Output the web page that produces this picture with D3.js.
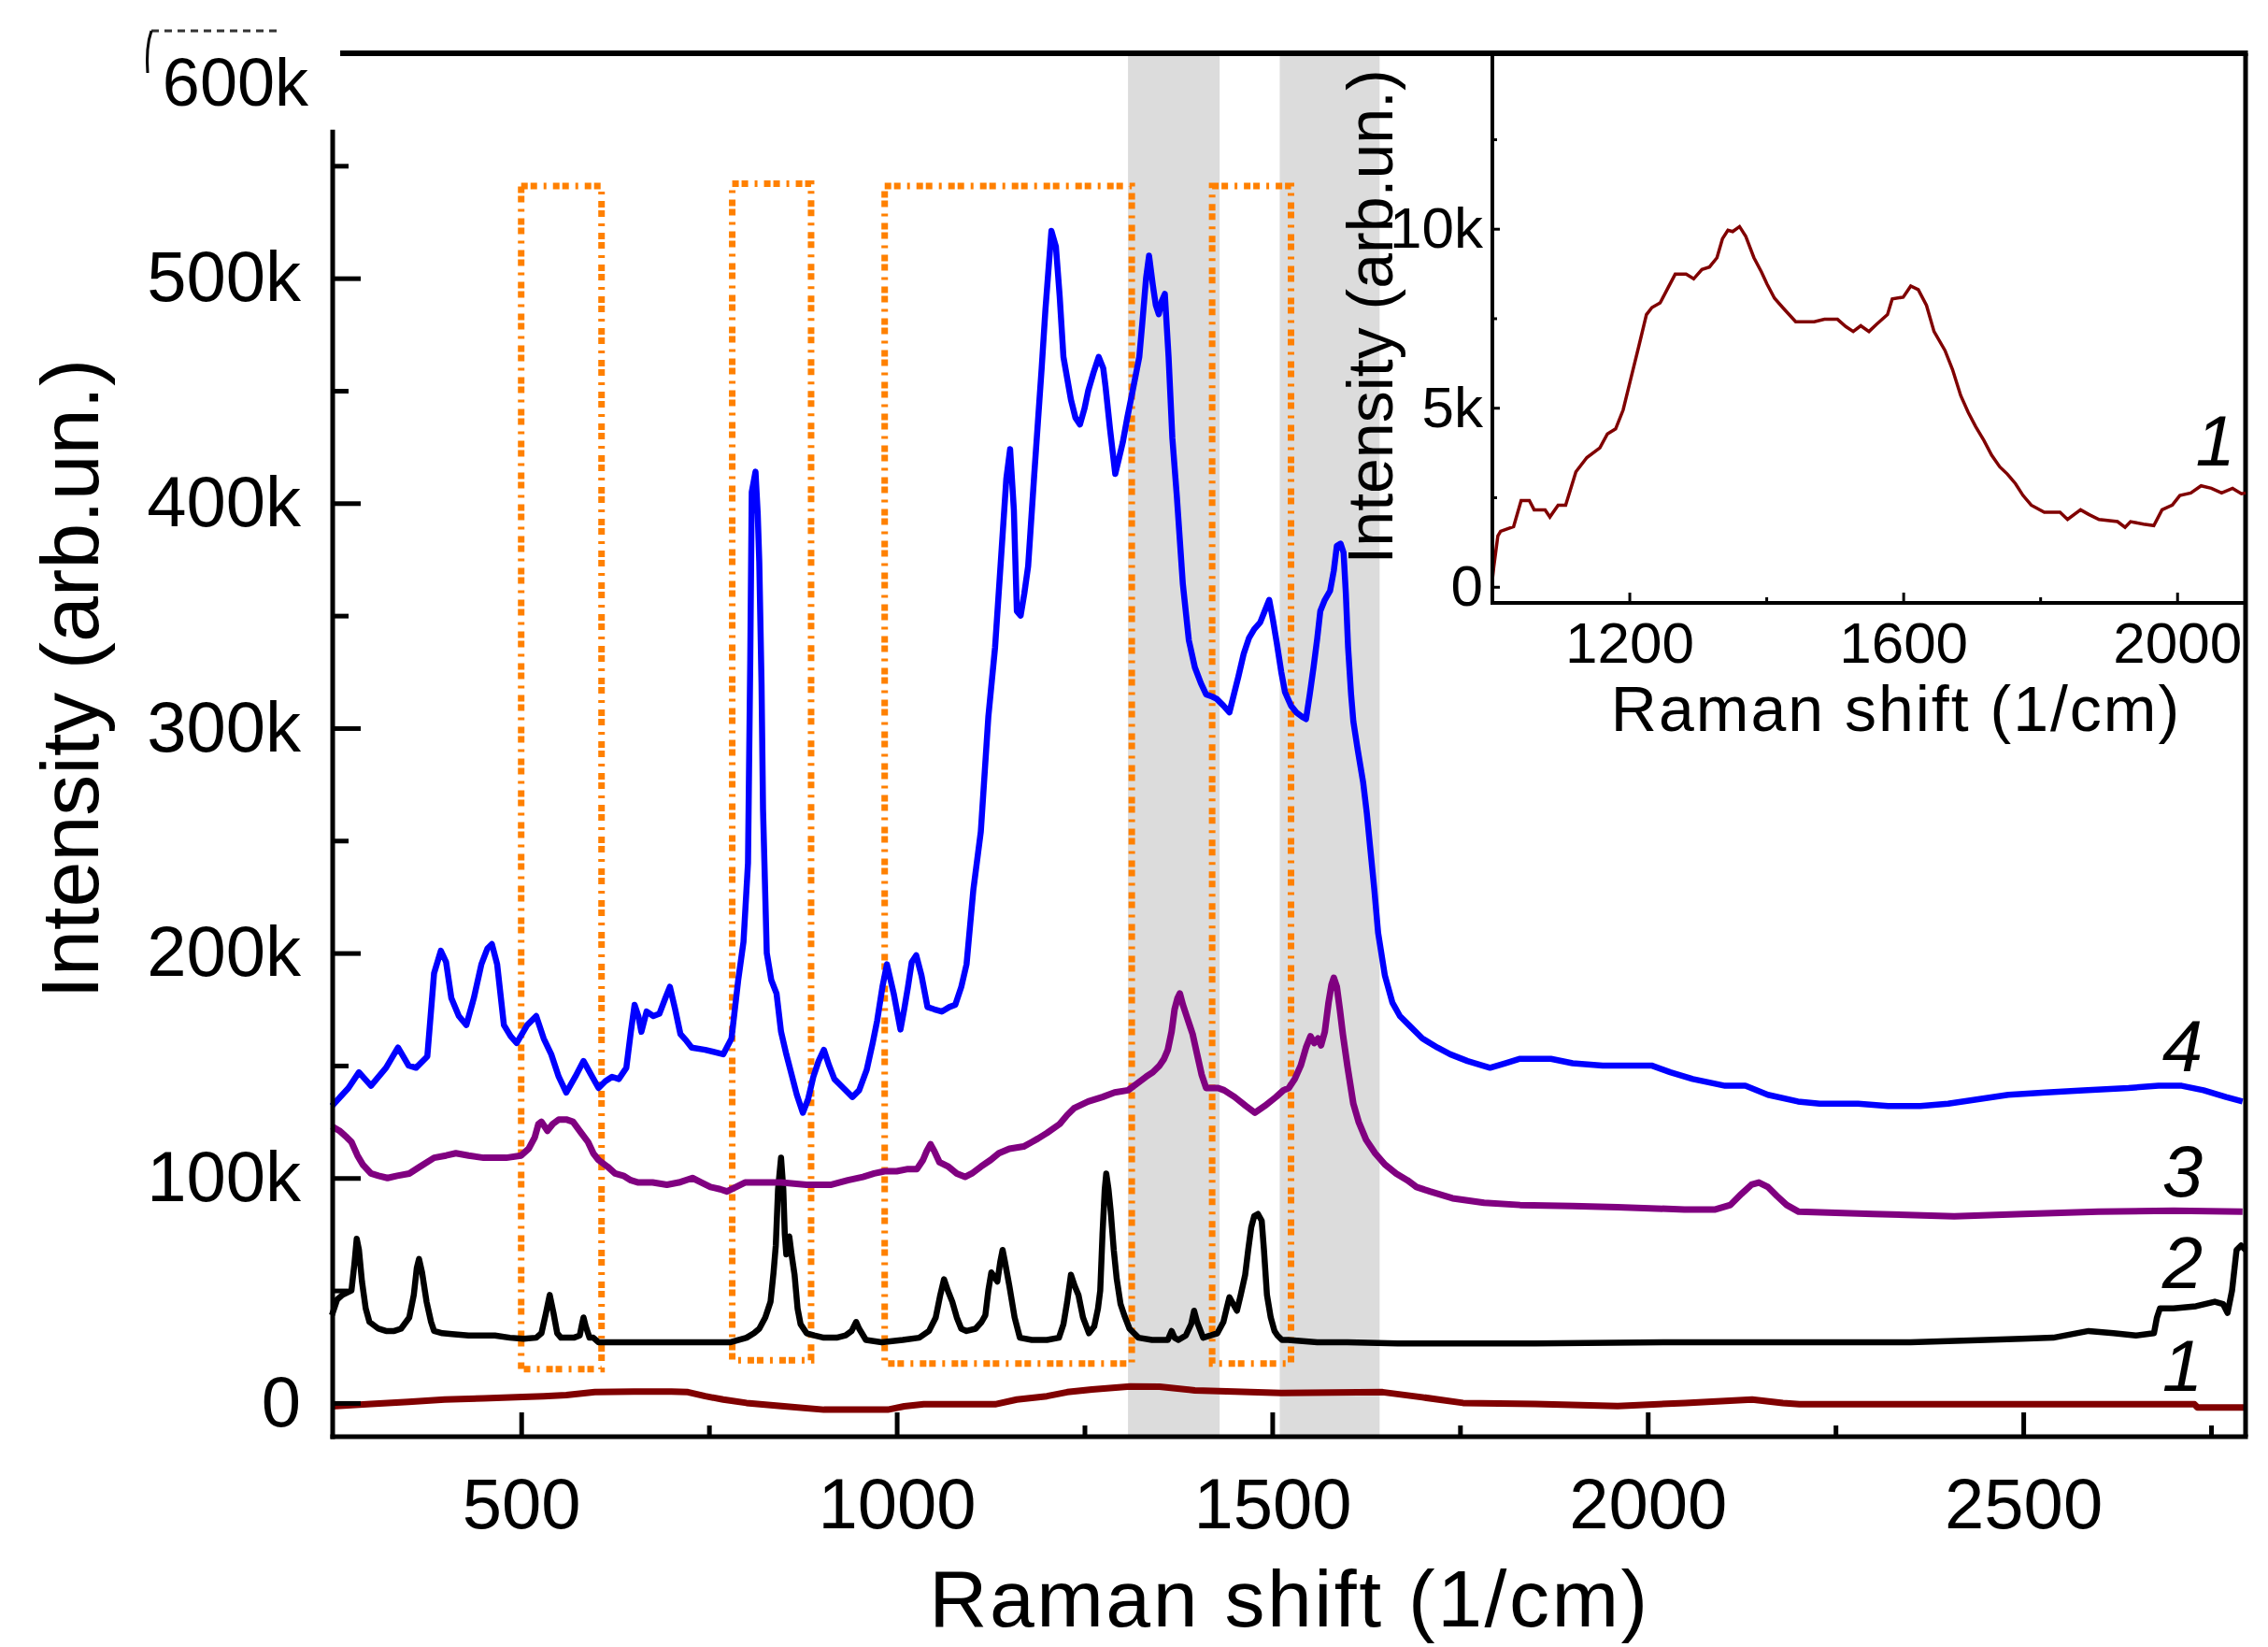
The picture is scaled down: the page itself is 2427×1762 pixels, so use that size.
<!DOCTYPE html>
<html lang="en">
<head>
<meta charset="UTF-8" />
<title>Raman spectra 1-4 with inset</title>
<style>
  html, body { margin: 0; padding: 0; background: #fff; }
  svg { display: block; }
  text { font-family: "Liberation Sans", Arial, sans-serif; fill: #000; }
</style>
<script src="https://cdn.jsdelivr.net/npm/d3@7"></script>
</head>
<body>
<script>
// Raman shift (1/cm), intensity (k arb.un.)
const curve1 = [[248,-1.5],[300,-0.5],[350,0.5],[398,1.5],[450,2],[502,2.7],[530,3],[560,3.5],[598,4.8],[650,5],[700,5],[722,4.8],[745,3],[769,1.5],[800,0],[850,-1.5],[903,-3],[950,-3],[988,-3],[1010,-1.5],[1036,-0.6],[1080,-0.6],[1131,-0.6],[1160,1.5],[1200,3],[1227,4.8],[1260,6],[1311,7.3],[1350,7.2],[1397,5.6],[1450,5],[1512,4.4],[1580,4.6],[1647,4.8],[1700,2.5],[1754,0],[1850,-0.5],[1960,-1.4],[2050,0],[2139,1.5],[2180,0],[2202,-0.6],[2400,-0.6],[2600,-0.6],[2728,-0.6],[2732,-2],[2796,-2]];

const curve2 = [[248,39],[255,46],[262,48],[274,50],[278,62],[281,73],[284,68],[288,54],[293,42],[298,36],[310,33],[320,32],[331,32],[340,33],[351,38],[357,48],[361,60],[364,64],[368,58],[374,45],[380,36],[384,32],[395,31],[408,30.6],[430,30],[450,30],[465,30],[485,29],[503,28.5],[520,29],[527,31],[533,40],[538,48],[543,40],[548,31],[553,29],[570,29],[578,30],[581,35],[583,38],[586,34],[591,29],[596,29],[603,27],[650,27],[700,27],[750,27],[779,27],[800,29],[810,31],[817,33],[825,38],[832,45],[836,58],[839,70],[842,95],[846,109],[849,95],[851,75],[853,66],[855,70],[857,74],[860,66],[864,57],[868,42],[872,35],[880,31],[890,30],[903,29],[920,29],[932,30],[940,32],[946,36],[950,33],[959,28],[980,27],[1008,28],[1030,29],[1043,32],[1052,38],[1058,48],[1063,55],[1068,50],[1074,45],[1080,38],[1086,33],[1093,32],[1105,33],[1113,36],[1118,39],[1122,50],[1126,58],[1130,56],[1134,54],[1138,63],[1141,68],[1144,63],[1150,52],[1157,38],[1164,29],[1180,28],[1200,28],[1216,29],[1222,35],[1227,45],[1232,57],[1237,52],[1242,48],[1248,38],[1256,31],[1263,34],[1268,42],[1271,50],[1274,75],[1277,95],[1279,102],[1282,95],[1285,85],[1289,68],[1293,55],[1298,44],[1303,39],[1310,33],[1322,29],[1340,28],[1361,28],[1366,32],[1370,29],[1375,28],[1385,30],[1392,35],[1396,41],[1400,36],[1408,29],[1418,30],[1427,31],[1435,36],[1440,43],[1443,47],[1448,44],[1453,41],[1458,48],[1464,57],[1468,68],[1472,78],[1476,83],[1481,84],[1486,81],[1489,68],[1493,48],[1498,38],[1503,32],[1507,30],[1513,28],[1521,28],[1560,27],[1600,27],[1667,26.5],[1750,26.5],[1850,26.5],[2049,27],[2200,27],[2350,27],[2450,28],[2498,28.5],[2540,29],[2587,32],[2620,31],[2650,30],[2674,31],[2678,38],[2682,42],[2700,42],[2730,43],[2755,45],[2766,44],[2772,40],[2778,50],[2784,68],[2790,70],[2796,68]];

const curve3 = [[248,123],[258,121],[268,118],[274,116],[282,110],[289,106],[300,102],[310,101],[322,100],[335,101],[351,102],[365,105],[384,109],[400,110],[413,111],[430,110],[450,109],[466,109],[480,109],[500,110],[510,113],[518,118],[523,124],[527,125],[535,121],[542,124],[550,126],[560,126],[569,125],[580,120],[589,116],[596,111],[603,108],[615,105],[625,102],[636,101],[646,99],[656,98],[675,98],[694,97],[710,98],[728,100],[740,98],[752,96],[765,95],[774,94],[786,96],[798,98],[820,98],[846,98],[880,97],[913,97],[935,99],[955,100.5],[970,102],[984,103],[1000,103],[1015,104],[1027,104],[1035,108],[1040,112],[1045,115],[1050,112],[1057,107],[1069,105],[1080,102],[1091,100.5],[1100,102],[1112,105],[1125,108],[1136,111],[1150,113],[1169,114],[1180,116],[1188,117.5],[1200,120],[1217,124],[1227,128],[1236,131],[1255,134],[1274,136],[1290,138],[1308,139],[1320,142],[1332,145],[1341,147],[1350,150],[1356,153],[1361,157],[1366,165],[1370,175],[1374,180],[1377,182],[1381,177],[1386,172],[1390,168],[1394,164],[1400,155],[1406,146],[1412,140],[1420,140],[1428,140],[1436,139],[1450,136],[1465,132],[1477,129],[1490,132],[1505,136],[1515,139],[1522,140],[1530,144],[1538,150],[1545,158],[1551,163],[1556,160],[1561,162],[1565,159],[1570,165],[1575,178],[1579,186],[1582,189],[1586,185],[1590,175],[1594,164],[1600,150],[1608,133],[1615,125],[1625,117],[1637,111],[1650,106],[1665,102],[1680,99],[1692,96],[1710,94],[1740,91],[1782,89],[1830,88],[1900,87.5],[1960,87],[2049,86],[2090,86],[2110,88],[2125,93],[2138,97],[2148,98],[2160,96],[2172,92],[2185,88],[2201,85],[2250,84.5],[2300,84],[2408,83],[2500,84],[2600,85],[2700,85.5],[2792,85]];

const curve4 = [[248,132],[270,140],[284,147],[300,141],[320,149],[336,158],[350,150],[360,149],[375,154],[384,191],[393,201],[400,196],[407,180],[417,172],[427,168],[437,180],[447,195],[455,202],[461,204],[468,195],[477,168],[486,163],[494,160],[508,168],[520,172],[530,162],[540,155],[550,145],[560,138],[572,145],[583,152],[593,146],[603,140],[612,143],[621,145],[630,144],[640,149],[646,165],[651,177],[656,172],[660,165],[667,174],[676,172],[684,173],[692,180],[698,185],[705,175],[712,164],[720,161],[727,158],[745,157],[769,155],[780,162],[789,188],[796,205],[802,240],[805,330],[807,405],[812,414],[815,395],[817,374],[820,320],[822,264],[827,200],[833,188],[840,182],[846,165],[853,155],[860,146],[867,137],[875,129],[882,135],[889,145],[896,152],[903,157],[910,150],[917,144],[929,140],[941,136],[950,139],[960,148],[968,160],[974,170],[981,185],[987,195],[996,182],[1005,166],[1010,175],[1015,185],[1020,196],[1026,199],[1033,190],[1041,176],[1050,175],[1060,174],[1070,176],[1078,177],[1086,185],[1093,195],[1102,228],[1112,254],[1122,305],[1131,336],[1141,386],[1146,411],[1151,424],[1156,397],[1160,352],[1165,350],[1170,360],[1175,372],[1183,412],[1188,436],[1193,460],[1198,486],[1206,521],[1212,514],[1217,492],[1222,465],[1232,446],[1238,438],[1244,435],[1250,442],[1255,450],[1262,458],[1269,465],[1275,460],[1278,452],[1284,433],[1291,413],[1296,420],[1301,427],[1307,438],[1313,448],[1323,465],[1327,480],[1332,500],[1336,510],[1341,497],[1345,488],[1349,484],[1353,490],[1357,493],[1362,465],[1367,429],[1373,403],[1381,364],[1389,339],[1397,327],[1405,320],[1412,315],[1420,314],[1426,313],[1435,310],[1443,307],[1449,315],[1455,323],[1462,333],[1469,340],[1476,344],[1484,347],[1490,352],[1496,357],[1501,348],[1506,338],[1512,325],[1517,316],[1525,310],[1532,307],[1540,305],[1545,304],[1550,315],[1555,327],[1560,340],[1564,352],[1570,357],[1577,361],[1582,370],[1586,381],[1591,382],[1595,378],[1598,360],[1601,336],[1605,315],[1608,303],[1614,290],[1621,276],[1626,262],[1631,245],[1636,228],[1641,209],[1650,190],[1660,178],[1670,172],[1682,168],[1700,162],[1720,158],[1737,155],[1760,152],[1790,149],[1810,151],[1830,153],[1871,153],[1900,151],[1940,150],[1970,150],[2005,150],[2030,147],[2060,144],[2103,141],[2130,141],[2160,137],[2200,134],[2229,133],[2280,133],[2320,132],[2363,132],[2400,133],[2440,135],[2480,137],[2530,138],[2580,139],[2640,140],[2680,141],[2711,141],[2740,139],[2770,136],[2792,134]];

// inset: curve 1 magnified, 1000-2100 1/cm, intensity in k
const insetCurve = [[1000,0.2],[1002,0.55],[1008,1.42],[1012,1.55],[1031,1.68],[1042,2.41],[1054,2.41],[1061,2.15],[1077,2.15],[1084,1.95],[1096,2.28],[1107,2.28],[1122,3.21],[1138,3.61],[1157,3.88],[1168,4.27],[1180,4.41],[1191,4.94],[1202,5.8],[1214,6.73],[1225,7.6],[1233,7.8],[1245,7.93],[1256,8.33],[1267,8.73],[1283,8.73],[1294,8.6],[1306,8.86],[1317,8.93],[1328,9.19],[1336,9.72],[1344,9.96],[1351,9.92],[1361,10.06],[1370,9.79],[1382,9.19],[1393,8.79],[1401,8.46],[1412,8.06],[1424,7.8],[1443,7.4],[1470,7.4],[1485,7.47],[1504,7.47],[1516,7.27],[1527,7.13],[1538,7.29],[1550,7.13],[1561,7.33],[1577,7.6],[1584,8.04],[1600,8.09],[1611,8.4],[1622,8.3],[1634,7.86],[1645,7.13],[1661,6.6],[1672,6.07],[1684,5.34],[1695,4.87],[1706,4.47],[1718,4.08],[1729,3.68],[1741,3.35],[1752,3.15],[1764,2.88],[1775,2.55],[1787,2.28],[1806,2.08],[1829,2.08],[1840,1.88],[1859,2.15],[1871,2.02],[1886,1.88],[1913,1.82],[1924,1.66],[1932,1.82],[1951,1.75],[1966,1.71],[1978,2.15],[1993,2.28],[2004,2.55],[2020,2.62],[2035,2.82],[2050,2.75],[2065,2.62],[2081,2.75],[2094,2.6],[2100,2.62]];

const grayBands = [[1308, 1430], [1510, 1643]];
// dotted boxes: [x0, x1, yBottom, yTop]
const dottedBoxes = [[500, 607, 15, 541], [781, 886, 19, 542], [984, 1313, 17.5, 541], [1420, 1525, 17.5, 541]];

const xTicks = [500, 1000, 1500, 2000, 2500];
const xMinor = [750, 1250, 1750, 2250, 2750];
const yTicks = [0, 100, 200, 300, 400, 500];
const yMinor = [50, 150, 250, 350, 450, 550];
const insetXTicks = [1200, 1600, 2000];
const insetXMinor = [1400, 1800];
const insetYTicks = [0, 5, 10];
const insetYMinor = [2.5, 7.5, 12.5];

const curveNames = ["1", "2", "3", "4"];
const curveLabelY = [5.2, 51, 91.7, 147.6];
const colors = ["#800000", "#000000", "#800080", "#0000ff"];

const W = 2427, H = 1762;
const svg = d3.select("body").append("svg").attr("width", W).attr("height", H);

const x = d3.scaleLinear().domain([249, 2796]).range([356, 2403]);
const y = d3.scaleLinear().domain([-15, 600]).range([1537, 57]);
const kFormat = d => d === 0 ? "0" : d + "k";

const line = d3.line().x(d => x(d[0])).y(d => y(d[1]));

// shaded bands
svg.append("g").selectAll("rect").data(grayBands).join("rect")
  .attr("x", d => x(d[0])).attr("width", d => x(d[1]) - x(d[0]))
  .attr("y", y(600)).attr("height", y(-15) - y(600))
  .attr("fill", "#dcdcdc");

// orange dotted boxes
svg.append("g").selectAll("rect").data(dottedBoxes).join("rect")
  .attr("x", d => x(d[0])).attr("width", d => x(d[1]) - x(d[0]))
  .attr("y", d => y(d[3])).attr("height", d => y(d[2]) - y(d[3]))
  .attr("fill", "none").attr("stroke", "#ff8000").attr("stroke-width", 7)
  .attr("stroke-dasharray", "7 3 7 7 3 7");

// spectra
const curves = [curve1, curve2, curve3, curve4];
const widths = [7, 6.5, 7, 6.5];
svg.append("g").selectAll("path").data(curves).join("path")
  .attr("d", line).attr("fill", "none")
  .attr("stroke", (d, i) => colors[i]).attr("stroke-width", (d, i) => widths[i])
  .attr("stroke-linejoin", "round");

// curve numbers
svg.append("g").selectAll("text").data(curveNames).join("text")
  .attr("x", x(2712)).attr("y", (d, i) => y(curveLabelY[i]))
  .attr("text-anchor", "middle").attr("font-size", 78).attr("font-style", "italic")
  .text(d => d);

// axes
const bottom = svg.append("g").attr("transform", `translate(0,${y(-15)})`)
  .call(d3.axisBottom(x).tickValues(xTicks).tickSize(-26).tickPadding(44).tickFormat(d => String(d)));
svg.append("g").attr("transform", `translate(0,${y(-15)})`)
  .call(d3.axisBottom(x).tickValues(xMinor).tickSize(-12).tickFormat(""));
const left = svg.append("g").attr("transform", `translate(${x(249)},0)`)
  .call(d3.axisLeft(y).tickValues(yTicks).tickSize(-30).tickPadding(34).tickFormat(kFormat));
svg.append("g").attr("transform", `translate(${x(249)},0)`)
  .call(d3.axisLeft(y).tickValues(yMinor).tickSize(-17).tickFormat(""));

svg.selectAll(".domain").remove();
svg.selectAll(".tick line").attr("stroke", "#000").attr("stroke-width", 5);
bottom.selectAll("text").attr("font-size", 76).attr("font-family", "Liberation Sans, Arial, sans-serif");
left.selectAll("text").attr("font-size", 76).attr("font-family", "Liberation Sans, Arial, sans-serif");

// frame
const frame = svg.append("g").attr("stroke", "#000").attr("fill", "none");
frame.append("line").attr("x1", x(249)).attr("x2", x(249)).attr("y1", y(566)).attr("y2", y(-15) + 2.5).attr("stroke-width", 5);
frame.append("line").attr("x1", x(249) - 2.5).attr("x2", x(2796) + 2.5).attr("y1", y(-15)).attr("y2", y(-15)).attr("stroke-width", 5);
frame.append("line").attr("x1", x(2796)).attr("x2", x(2796)).attr("y1", y(600)).attr("y2", y(-15)).attr("stroke-width", 5);
frame.append("line").attr("x1", x(259)).attr("x2", x(2796) + 2.5).attr("y1", y(600)).attr("y2", y(600)).attr("stroke-width", 6);

// displaced 600k label and leftover bracket at the top left
svg.append("text").attr("x", 330).attr("y", 113).attr("text-anchor", "end")
  .attr("font-size", 72).text("600k");
svg.append("line").attr("x1", 162).attr("x2", 297).attr("y1", 33).attr("y2", 33)
  .attr("stroke", "#333").attr("stroke-width", 3).attr("stroke-dasharray", "8 6");
svg.append("path").attr("d", "M162,33 Q156,50 158,78").attr("fill", "none")
  .attr("stroke", "#000").attr("stroke-width", 3);

// axis titles
svg.append("text").attr("x", 1380).attr("y", 1740).attr("text-anchor", "middle")
  .attr("font-size", 86).attr("letter-spacing", 2.5).text("Raman shift (1/cm)");
svg.append("text").attr("transform", "translate(105,726) rotate(-90)")
  .attr("text-anchor", "middle").attr("font-size", 88).text("Intensity (arb.un.)");

// inset
const xi = d3.scaleLinear().domain([1000, 2100]).range([1597, 2403]);
const yi = d3.scaleLinear().domain([-0.45, 14.9]).range([645, 57]);
const inset = svg.append("g");

inset.append("path").datum(insetCurve)
  .attr("d", d3.line().x(d => xi(d[0])).y(d => yi(d[1])))
  .attr("fill", "none").attr("stroke", "#800000").attr("stroke-width", 3.5);

const ib = inset.append("g").attr("transform", `translate(0,${yi(-0.45)})`)
  .call(d3.axisBottom(xi).tickValues(insetXTicks).tickSize(-11).tickPadding(20).tickFormat(d => String(d)));
inset.append("g").attr("transform", `translate(0,${yi(-0.45)})`)
  .call(d3.axisBottom(xi).tickValues(insetXMinor).tickSize(-6).tickFormat(""));
const il = inset.append("g").attr("transform", `translate(${xi(1000)},0)`)
  .call(d3.axisLeft(yi).tickValues(insetYTicks).tickSize(-8).tickPadding(10).tickFormat(kFormat));
inset.append("g").attr("transform", `translate(${xi(1000)},0)`)
  .call(d3.axisLeft(yi).tickValues(insetYMinor).tickSize(-5).tickFormat(""));
inset.selectAll(".domain").remove();
inset.selectAll(".tick line").attr("stroke", "#000").attr("stroke-width", 3);
ib.selectAll("text").attr("font-size", 62).attr("font-family", "Liberation Sans, Arial, sans-serif");
il.selectAll("text").attr("font-size", 62).attr("font-family", "Liberation Sans, Arial, sans-serif");

inset.append("line").attr("x1", xi(1000)).attr("x2", xi(1000)).attr("y1", yi(14.9)).attr("y2", yi(-0.45) + 2)
  .attr("stroke", "#000").attr("stroke-width", 4);
inset.append("line").attr("x1", xi(1000)).attr("x2", xi(2100)).attr("y1", yi(-0.45)).attr("y2", yi(-0.45))
  .attr("stroke", "#000").attr("stroke-width", 4);

inset.append("text").attr("x", 2029).attr("y", 782).attr("text-anchor", "middle")
  .attr("font-size", 68).attr("letter-spacing", 2).text("Raman shift (1/cm)");
inset.append("text").attr("transform", "translate(1490,339) rotate(-90)")
  .attr("text-anchor", "middle").attr("font-size", 68).text("Intensity (arb.un.)");
inset.append("text").attr("x", xi(2056)).attr("y", yi(3.4)).attr("text-anchor", "middle")
  .attr("font-size", 76).attr("font-style", "italic").text("1");
</script>
</body>
</html>
